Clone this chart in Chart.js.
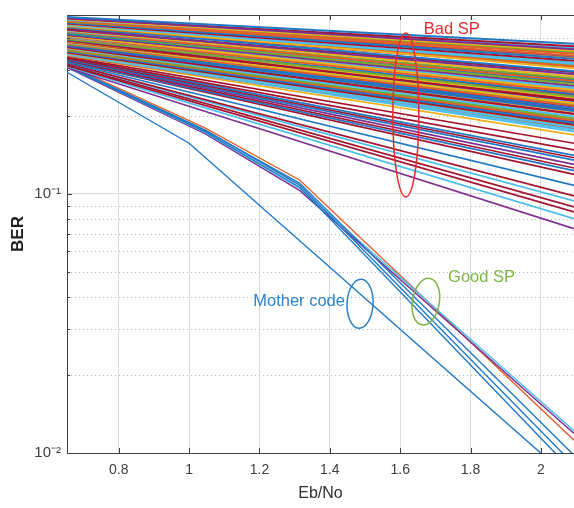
<!DOCTYPE html>
<html>
<head>
<meta charset="utf-8">
<script src="https://cdn.jsdelivr.net/npm/chart.js@4.4.1/dist/chart.umd.min.js"></script>
<style>
  html, body { margin: 0; padding: 0; background: #fff; }
  #wrap { width: 574px; height: 508px; }
</style>
</head>
<body>
<div id="wrap"><canvas id="chart_1"></canvas></div>
<script>
const FONT = "'Liberation Sans', Arial, sans-serif";

// axis range (Eb/No) and ticks
const X_MIN = 0.653;
const X_MAX = 2.094;
const xTicks = [0.8, 1, 1.2, 1.4, 1.6, 1.8, 2];
const yMajorTicks = [0.01, 0.1];
const yMinorTicks = [0.02, 0.03, 0.04, 0.05, 0.06, 0.07, 0.08, 0.09, 0.2, 0.3, 0.4];

// "Bad SP" bundle: BER at X_MIN and at X_MAX
const badStartBER = [
  0.482, 0.478, 0.476, 0.474, 0.471, 0.468, 0.466, 0.463, 0.462, 0.459,
  0.457, 0.455, 0.453, 0.450, 0.448, 0.446, 0.444, 0.442, 0.440, 0.438,
  0.435, 0.433, 0.431, 0.429, 0.426, 0.424, 0.422, 0.419, 0.418, 0.415,
  0.413, 0.411, 0.408, 0.407, 0.405, 0.402, 0.400, 0.397, 0.396, 0.394,
  0.391, 0.389, 0.387, 0.385, 0.384, 0.381, 0.379, 0.377, 0.375, 0.374,
  0.371, 0.369, 0.367, 0.365, 0.364, 0.361, 0.360, 0.358, 0.356, 0.354,
  0.352, 0.350, 0.348, 0.347, 0.345, 0.342
];
const badEndBER = [
  0.380, 0.362, 0.372, 0.358, 0.366, 0.348, 0.355, 0.342, 0.351, 0.333,
  0.340, 0.327, 0.336, 0.318, 0.306, 0.322, 0.311, 0.314, 0.298, 0.309,
  0.318, 0.290, 0.296, 0.284, 0.291, 0.273, 0.280, 0.277, 0.266, 0.270,
  0.262, 0.268, 0.252, 0.258, 0.247, 0.255, 0.250, 0.238, 0.244, 0.241,
  0.229, 0.236, 0.232, 0.224, 0.228, 0.219, 0.222, 0.214, 0.217, 0.209,
  0.212, 0.204, 0.208, 0.199, 0.203, 0.196, 0.192, 0.194, 0.188, 0.190,
  0.185, 0.187, 0.181, 0.183, 0.177, 0.179
];

// lower (sparser) bad SP curves
const lowStartBER = [0.345, 0.342, 0.339, 0.336, 0.336, 0.333, 0.330, 0.330, 0.328,
  0.325, 0.325, 0.322, 0.319, 0.319, 0.316, 0.313, 0.311, 0.308];
const lowEndBER = [0.174, 0.169, 0.157, 0.148, 0.141, 0.138, 0.135, 0.130, 0.126,
  0.123, 0.119, 0.108, 0.0983, 0.0941, 0.0892, 0.0853, 0.0803, 0.0735];
const lowColors = ["lightblue", "yellow", "red", "red", "blue", "red", "blue", "purple", "red",
  "blue", "red", "blue", "red", "lightblue", "red", "red", "lightblue", "purple"];

// "Good SP" curves
const goodEbNo = [0.653, 1.045, 1.315, 2.094];
const goodOrangeBER = [0.316, 0.180, 0.113, 0.0112];
const goodBlue1BER = [0.313, 0.177, 0.108, 0.0090];
const goodBlue2BER = [0.311, 0.174, 0.106, 0.0084];
const goodBlue3BER = [0.309, 0.176, 0.110, 0.0098];
const goodPurpleBER = [0.308, 0.171, 0.103, 0.0119];
const goodCyanBER = [0.311, 0.173, 0.105, 0.0122];

// mother code
const motherEbNo = [0.653, 1.0, 2.094];
const motherBER = [0.295, 0.157, 0.0077];

const COLORS = {
  blue: "#1f78c4",
  orange: "#e0602a",
  yellow: "#edb120",
  purple: "#7e2f8e",
  green: "#77ac30",
  lightblue: "#4dbeee",
  red: "#a2142f",
};
const colorOrder = ["blue", "orange", "yellow", "purple", "green", "lightblue", "red"];

function lineSet(xs, ys, color, width) {
  return {
    data: xs.map((x, i) => ({ x: x, y: ys[i] })),
    borderColor: color,
    backgroundColor: color,
    borderWidth: width,
    pointRadius: 0,
    tension: 0,
    fill: false,
  };
}

const datasets = [];
badStartBER.forEach((s, i) => {
  const c = colorOrder[(i * 3 + Math.floor(i / 7)) % 7];
  datasets.push(lineSet([X_MIN, X_MAX], [s, badEndBER[i]], COLORS[c], 2));
});
lowStartBER.forEach((s, i) => {
  datasets.push(lineSet([X_MIN, X_MAX], [s, lowEndBER[i]], COLORS[lowColors[i]], 1.7));
});
datasets.push(lineSet(goodEbNo, goodBlue2BER, COLORS.blue, 1.4));
datasets.push(lineSet(goodEbNo, goodBlue1BER, COLORS.blue, 1.4));
datasets.push(lineSet(goodEbNo, goodBlue3BER, COLORS.blue, 1.4));
datasets.push(lineSet(goodEbNo, goodCyanBER, COLORS.lightblue, 1.4));
datasets.push(lineSet(goodEbNo, goodPurpleBER, COLORS.purple, 1.4));
datasets.push(lineSet(goodEbNo, goodOrangeBER, COLORS.orange, 1.4));
datasets.push(lineSet(motherEbNo, motherBER, COLORS.blue, 1.4));

// annotations (positions in data units)
const rings = [
  { x: 1.616, y: 0.202, rx: 13, ry: 82, rot: 0, color: "#ea2a2e" },
  { x: 1.673, y: 0.0384, rx: 13.5, ry: 23.5, rot: 0.17, color: "#7db545" },
  { x: 1.486, y: 0.0377, rx: 13, ry: 24.5, rot: 0.05, color: "#2a83c8" },
];
const notes = [
  { text: "Bad SP", x: 1.667, y: 0.43, align: "left", color: "#ea2a2e" },
  { text: "Good SP", x: 1.736, y: 0.0478, align: "left", color: "#7db545" },
  { text: "Mother code", x: 1.443, y: 0.0384, align: "right", color: "#2a83c8" },
];

const decorPlugin = {
  id: "decor",
  beforeDatasetsDraw(chart) {
    const { ctx, chartArea: a, scales } = chart;
    ctx.save();
    ctx.strokeStyle = "#b5b5b5";
    ctx.lineWidth = 1;
    ctx.setLineDash([1, 3]);
    yMinorTicks.forEach((v) => {
      const py = Math.round(scales.y.getPixelForValue(v)) + 0.5;
      ctx.beginPath();
      ctx.moveTo(a.left, py);
      ctx.lineTo(a.right, py);
      ctx.stroke();
    });
    ctx.restore();
  },
  afterDatasetsDraw(chart) {
    const { ctx, scales } = chart;
    ctx.save();
    ctx.lineWidth = 1.5;
    rings.forEach((r) => {
      ctx.strokeStyle = r.color;
      ctx.beginPath();
      ctx.ellipse(scales.x.getPixelForValue(r.x), scales.y.getPixelForValue(r.y), r.rx, r.ry, r.rot, 0, Math.PI * 2);
      ctx.stroke();
    });
    ctx.font = "16.5px " + FONT;
    ctx.textBaseline = "middle";
    notes.forEach((n) => {
      ctx.fillStyle = n.color;
      ctx.textAlign = n.align;
      ctx.fillText(n.text, scales.x.getPixelForValue(n.x), scales.y.getPixelForValue(n.y));
    });
    ctx.restore();
  },
  afterDraw(chart) {
    const { ctx, chartArea: a, scales } = chart;
    ctx.save();
    ctx.strokeStyle = "#404040";
    ctx.lineWidth = 1;
    ctx.beginPath();
    ctx.moveTo(a.left, a.top + 0.5);
    ctx.lineTo(a.right, a.top + 0.5);
    xTicks.forEach((v) => {
      const px = Math.round(scales.x.getPixelForValue(v)) + 0.5;
      ctx.moveTo(px, a.bottom);
      ctx.lineTo(px, a.bottom - 5);
      ctx.moveTo(px, a.top);
      ctx.lineTo(px, a.top + 5);
    });
    yMajorTicks.forEach((v) => {
      const py = Math.round(scales.y.getPixelForValue(v)) + 0.5;
      ctx.moveTo(a.left, py);
      ctx.lineTo(a.left + 5, py);
    });
    yMinorTicks.forEach((v) => {
      const py = Math.round(scales.y.getPixelForValue(v)) + 0.5;
      ctx.moveTo(a.left, py);
      ctx.lineTo(a.left + 3, py);
    });
    ctx.stroke();
    ctx.restore();
  },
};

const ctx = document.getElementById("chart_1").getContext("2d");
window.myChart = new Chart(ctx, {
  type: "line",
  data: { datasets: datasets },
  plugins: [decorPlugin],
  options: {
    responsive: true,
    maintainAspectRatio: false,
    animation: false,
    layout: { padding: { top: 10, right: 0, left: 0, bottom: 0 } },
    scales: {
      x: {
        type: "linear",
        min: X_MIN,
        max: X_MAX,
        afterBuildTicks: (scale) => {
          scale.ticks = xTicks.map((v) => ({ value: v }));
        },
        afterFit: (scale) => {
          scale.height = 55;
        },
        grid: { color: "#dadada", drawTicks: false },
        border: { color: "#404040", width: 1 },
        ticks: {
          color: "#404040",
          font: { family: FONT, size: 14 },
          padding: 9,
          maxRotation: 0,
          autoSkip: false,
          callback: (v) => String(Math.round(v * 10) / 10),
        },
        title: {
          display: true,
          text: "Eb/No",
          color: "#303030",
          font: { family: FONT, size: 16 },
          padding: { top: 0, bottom: 5 },
        },
      },
      y: {
        type: "logarithmic",
        min: 0.01,
        max: 0.491,
        afterBuildTicks: (scale) => {
          scale.ticks = yMajorTicks.map((v) => ({ value: v, major: true }));
        },
        afterFit: (scale) => {
          scale.width = 67;
        },
        grid: {
          drawTicks: false,
          color: (c) => (c.tick && c.tick.value === 0.1 ? "#dadada" : "rgba(0,0,0,0)"),
        },
        border: { color: "#404040", width: 1 },
        ticks: {
          color: "#404040",
          font: { family: FONT, size: 15 },
          padding: 6,
          callback: (v) => (v === 0.1 ? "10\u207B\u00B9" : "10\u207B\u00B2"),
        },
        title: {
          display: true,
          text: "BER",
          color: "#202020",
          font: { family: FONT, size: 17, weight: "bold" },
          padding: { top: 8, bottom: 0 },
        },
      },
    },
    plugins: {
      legend: { display: false },
      tooltip: { enabled: false },
    },
  },
});
</script>
</body>
</html>
